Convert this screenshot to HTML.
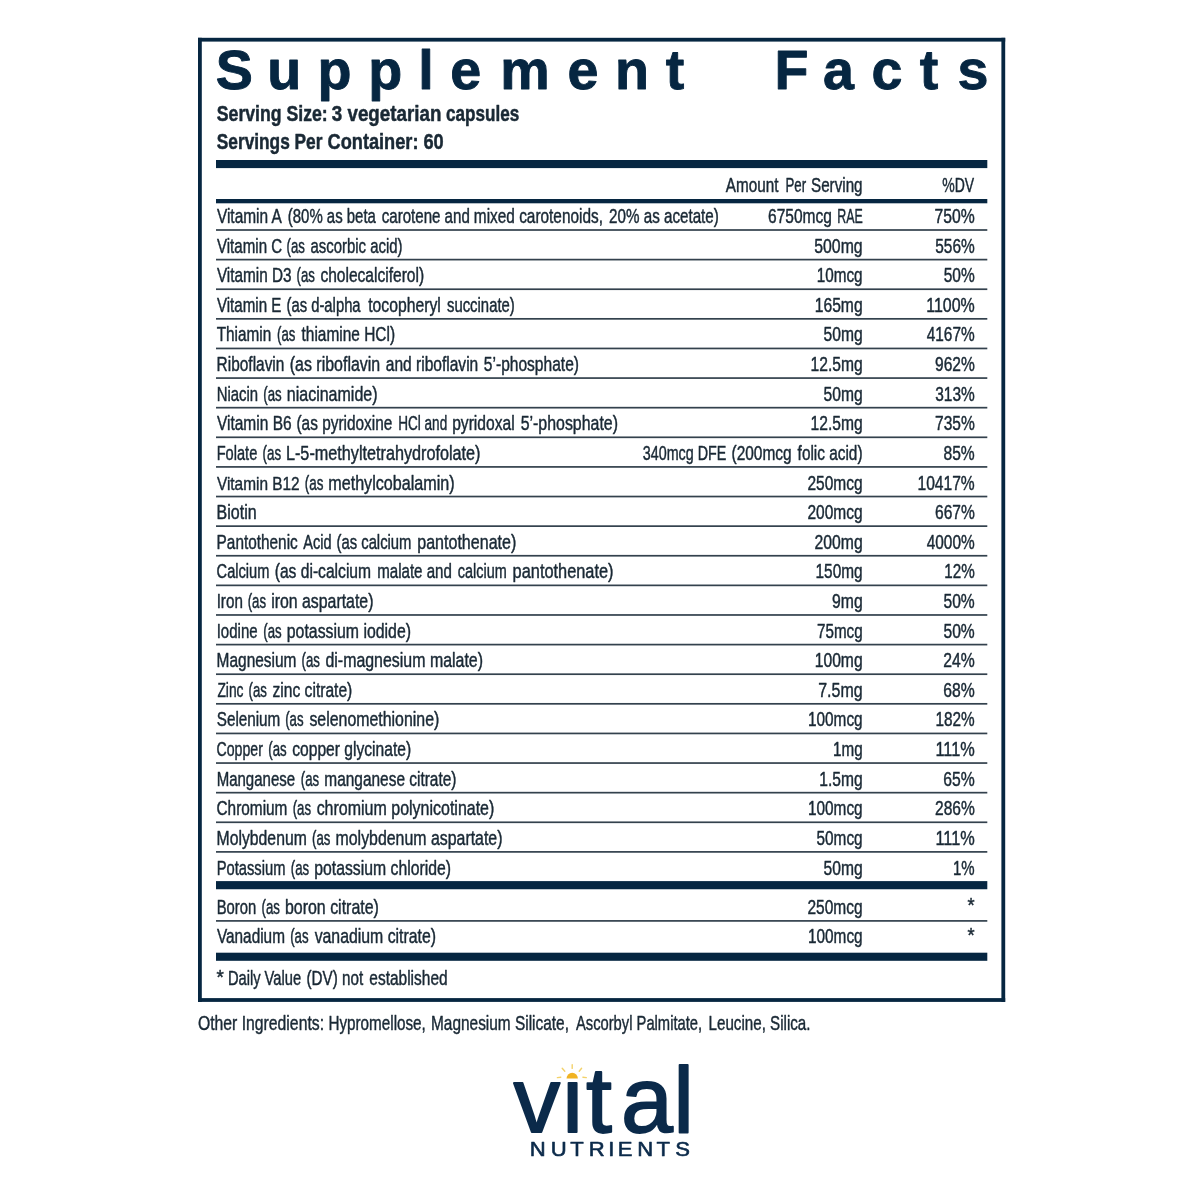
<!DOCTYPE html>
<html lang="en"><head><meta charset="utf-8"><title>Supplement Facts</title>
<style>
html,body{margin:0;padding:0;background:#fff;}
svg{display:block;}
text{font-family:"Liberation Sans",sans-serif;font-kerning:normal;stroke-linejoin:round;}
</style></head><body>
<svg width="1200" height="1200" viewBox="0 0 1200 1200">
<rect width="1200" height="1200" fill="#fff"/>
<rect x="198.00" y="37.80" width="807.20" height="3.80" fill="#062641"/>
<rect x="198.00" y="998.10" width="807.20" height="3.80" fill="#062641"/>
<rect x="198.00" y="37.80" width="3.80" height="964.10" fill="#062641"/>
<rect x="1001.40" y="37.80" width="3.80" height="964.10" fill="#062641"/>
<rect x="216.00" y="160.00" width="771.30" height="8.10" fill="#062641"/>
<rect x="216.00" y="199.00" width="771.30" height="4.30" fill="#062641"/>
<rect x="216.00" y="229.15" width="771.30" height="1.70" fill="#33414d"/>
<rect x="216.00" y="258.76" width="771.30" height="1.70" fill="#33414d"/>
<rect x="216.00" y="288.38" width="771.30" height="1.70" fill="#33414d"/>
<rect x="216.00" y="317.99" width="771.30" height="1.70" fill="#33414d"/>
<rect x="216.00" y="347.61" width="771.30" height="1.70" fill="#33414d"/>
<rect x="216.00" y="377.22" width="771.30" height="1.70" fill="#33414d"/>
<rect x="216.00" y="406.83" width="771.30" height="1.70" fill="#33414d"/>
<rect x="216.00" y="436.45" width="771.30" height="1.70" fill="#33414d"/>
<rect x="216.00" y="466.06" width="771.30" height="1.70" fill="#33414d"/>
<rect x="216.00" y="495.68" width="771.30" height="1.70" fill="#33414d"/>
<rect x="216.00" y="525.29" width="771.30" height="1.70" fill="#33414d"/>
<rect x="216.00" y="554.90" width="771.30" height="1.70" fill="#33414d"/>
<rect x="216.00" y="584.52" width="771.30" height="1.70" fill="#33414d"/>
<rect x="216.00" y="614.13" width="771.30" height="1.70" fill="#33414d"/>
<rect x="216.00" y="643.75" width="771.30" height="1.70" fill="#33414d"/>
<rect x="216.00" y="673.36" width="771.30" height="1.70" fill="#33414d"/>
<rect x="216.00" y="702.97" width="771.30" height="1.70" fill="#33414d"/>
<rect x="216.00" y="732.59" width="771.30" height="1.70" fill="#33414d"/>
<rect x="216.00" y="762.20" width="771.30" height="1.70" fill="#33414d"/>
<rect x="216.00" y="791.82" width="771.30" height="1.70" fill="#33414d"/>
<rect x="216.00" y="821.43" width="771.30" height="1.70" fill="#33414d"/>
<rect x="216.00" y="851.04" width="771.30" height="1.70" fill="#33414d"/>
<rect x="216.00" y="881.10" width="771.30" height="8.15" fill="#062641"/>
<rect x="216.00" y="920.05" width="771.30" height="1.70" fill="#33414d"/>
<rect x="216.00" y="952.70" width="771.30" height="8.10" fill="#062641"/>
<text transform="matrix(0.8010 0 0 1.0000 216.92 223.00)" font-size="19.3" fill="#1a2935" stroke="#1a2935" stroke-width="0.45">Vitamin A</text>
<text transform="matrix(0.7752 0 0 1.0000 287.82 223.00)" font-size="19.3" fill="#1a2935" stroke="#1a2935" stroke-width="0.45">(80% as beta</text>
<text transform="matrix(0.7816 0 0 1.0000 381.75 223.00)" font-size="19.3" fill="#1a2935" stroke="#1a2935" stroke-width="0.45">carotene and</text>
<text transform="matrix(0.7980 0 0 1.0000 473.86 223.00)" font-size="19.3" fill="#1a2935" stroke="#1a2935" stroke-width="0.45">mixed carotenoids,</text>
<text transform="matrix(0.7869 0 0 1.0000 609.11 223.00)" font-size="19.3" fill="#1a2935" stroke="#1a2935" stroke-width="0.45">20% as acetate)</text>
<text transform="matrix(0.8048 0 0 1.0000 768.00 223.00)" font-size="19.3" fill="#1a2935" stroke="#1a2935" stroke-width="0.45">6750mcg</text>
<text transform="matrix(0.6436 0 0 1.0000 837.25 223.00)" font-size="19.3" fill="#1a2935" stroke="#1a2935" stroke-width="0.45">RAE</text>
<text transform="matrix(0.8155 0 0 1.0000 934.49 223.00)" font-size="19.3" fill="#1a2935" stroke="#1a2935" stroke-width="0.45">750%</text>
<text transform="matrix(0.7835 0 0 1.0000 216.92 252.61)" font-size="19.3" fill="#1a2935" stroke="#1a2935" stroke-width="0.45">Vitamin C</text>
<text transform="matrix(0.6857 0 0 1.0000 286.50 252.61)" font-size="19.3" fill="#1a2935" stroke="#1a2935" stroke-width="0.45">(as</text>
<text transform="matrix(0.7735 0 0 1.0000 310.46 252.61)" font-size="19.3" fill="#1a2935" stroke="#1a2935" stroke-width="0.45">ascorbic acid)</text>
<text transform="matrix(0.8208 0 0 1.0000 814.23 252.61)" font-size="19.3" fill="#1a2935" stroke="#1a2935" stroke-width="0.45">500mg</text>
<text transform="matrix(0.8001 0 0 1.0000 935.24 252.61)" font-size="19.3" fill="#1a2935" stroke="#1a2935" stroke-width="0.45">556%</text>
<text transform="matrix(0.7946 0 0 1.0000 216.92 282.23)" font-size="19.3" fill="#1a2935" stroke="#1a2935" stroke-width="0.45">Vitamin D3</text>
<text transform="matrix(0.6857 0 0 1.0000 296.50 282.23)" font-size="19.3" fill="#1a2935" stroke="#1a2935" stroke-width="0.45">(as</text>
<text transform="matrix(0.8059 0 0 1.0000 320.44 282.23)" font-size="19.3" fill="#1a2935" stroke="#1a2935" stroke-width="0.45">cholecalciferol)</text>
<text transform="matrix(0.7917 0 0 1.0000 816.77 282.23)" font-size="19.3" fill="#1a2935" stroke="#1a2935" stroke-width="0.45">10mcg</text>
<text transform="matrix(0.8024 0 0 1.0000 943.74 282.23)" font-size="19.3" fill="#1a2935" stroke="#1a2935" stroke-width="0.45">50%</text>
<text transform="matrix(0.7841 0 0 1.0000 216.92 311.84)" font-size="19.3" fill="#1a2935" stroke="#1a2935" stroke-width="0.45">Vitamin E</text>
<text transform="matrix(0.7680 0 0 1.0000 286.53 311.84)" font-size="19.3" fill="#1a2935" stroke="#1a2935" stroke-width="0.45">(as d-alpha</text>
<text transform="matrix(0.8152 0 0 1.0000 368.23 311.84)" font-size="19.3" fill="#1a2935" stroke="#1a2935" stroke-width="0.45">tocopheryl</text>
<text transform="matrix(0.7708 0 0 1.0000 446.99 311.84)" font-size="19.3" fill="#1a2935" stroke="#1a2935" stroke-width="0.45">succinate)</text>
<text transform="matrix(0.8119 0 0 1.0000 814.75 311.84)" font-size="19.3" fill="#1a2935" stroke="#1a2935" stroke-width="0.45">165mg</text>
<text transform="matrix(0.8271 0 0 1.0000 926.23 311.84)" font-size="19.3" fill="#1a2935" stroke="#1a2935" stroke-width="0.45">1100%</text>
<text transform="matrix(0.7947 0 0 1.0000 216.69 341.46)" font-size="19.3" fill="#1a2935" stroke="#1a2935" stroke-width="0.45">Thiamin</text>
<text transform="matrix(0.6857 0 0 1.0000 277.10 341.46)" font-size="19.3" fill="#1a2935" stroke="#1a2935" stroke-width="0.45">(as</text>
<text transform="matrix(0.8002 0 0 1.0000 301.53 341.46)" font-size="19.3" fill="#1a2935" stroke="#1a2935" stroke-width="0.45">thiamine HCl)</text>
<text transform="matrix(0.8113 0 0 1.0000 823.49 341.46)" font-size="19.3" fill="#1a2935" stroke="#1a2935" stroke-width="0.45">50mg</text>
<text transform="matrix(0.7987 0 0 1.0000 926.73 341.46)" font-size="19.3" fill="#1a2935" stroke="#1a2935" stroke-width="0.45">4167%</text>
<text transform="matrix(0.7997 0 0 1.0000 216.62 371.07)" font-size="19.3" fill="#1a2935" stroke="#1a2935" stroke-width="0.45">Riboflavin</text>
<text transform="matrix(0.8262 0 0 1.0000 289.78 371.07)" font-size="19.3" fill="#1a2935" stroke="#1a2935" stroke-width="0.45">(as riboflavin</text>
<text transform="matrix(0.8067 0 0 1.0000 385.74 371.07)" font-size="19.3" fill="#1a2935" stroke="#1a2935" stroke-width="0.45">and riboflavin</text>
<text transform="matrix(0.8070 0 0 1.0000 483.84 371.07)" font-size="19.3" fill="#1a2935" stroke="#1a2935" stroke-width="0.45">5’-phosphate)</text>
<text transform="matrix(0.8102 0 0 1.0000 810.50 371.07)" font-size="19.3" fill="#1a2935" stroke="#1a2935" stroke-width="0.45">12.5mg</text>
<text transform="matrix(0.8051 0 0 1.0000 935.00 371.07)" font-size="19.3" fill="#1a2935" stroke="#1a2935" stroke-width="0.45">962%</text>
<text transform="matrix(0.7729 0 0 1.0000 216.66 400.68)" font-size="19.3" fill="#1a2935" stroke="#1a2935" stroke-width="0.45">Niacin</text>
<text transform="matrix(0.6857 0 0 1.0000 263.35 400.68)" font-size="19.3" fill="#1a2935" stroke="#1a2935" stroke-width="0.45">(as</text>
<text transform="matrix(0.8301 0 0 1.0000 286.77 400.68)" font-size="19.3" fill="#1a2935" stroke="#1a2935" stroke-width="0.45">niacinamide)</text>
<text transform="matrix(0.8113 0 0 1.0000 823.49 400.68)" font-size="19.3" fill="#1a2935" stroke="#1a2935" stroke-width="0.45">50mg</text>
<text transform="matrix(0.8001 0 0 1.0000 935.24 400.68)" font-size="19.3" fill="#1a2935" stroke="#1a2935" stroke-width="0.45">313%</text>
<text transform="matrix(0.8037 0 0 1.0000 216.92 430.30)" font-size="19.3" fill="#1a2935" stroke="#1a2935" stroke-width="0.45">Vitamin B6</text>
<text transform="matrix(0.7982 0 0 1.0000 296.50 430.30)" font-size="19.3" fill="#1a2935" stroke="#1a2935" stroke-width="0.45">(as pyridoxine</text>
<text transform="matrix(0.7038 0 0 1.0000 398.16 430.30)" font-size="19.3" fill="#1a2935" stroke="#1a2935" stroke-width="0.45">HCl and</text>
<text transform="matrix(0.8086 0 0 1.0000 452.15 430.30)" font-size="19.3" fill="#1a2935" stroke="#1a2935" stroke-width="0.45">pyridoxal</text>
<text transform="matrix(0.8250 0 0 1.0000 520.63 430.30)" font-size="19.3" fill="#1a2935" stroke="#1a2935" stroke-width="0.45">5’-phosphate)</text>
<text transform="matrix(0.8102 0 0 1.0000 810.50 430.30)" font-size="19.3" fill="#1a2935" stroke="#1a2935" stroke-width="0.45">12.5mg</text>
<text transform="matrix(0.8051 0 0 1.0000 935.00 430.30)" font-size="19.3" fill="#1a2935" stroke="#1a2935" stroke-width="0.45">735%</text>
<text transform="matrix(0.7566 0 0 1.0000 216.68 459.91)" font-size="19.3" fill="#1a2935" stroke="#1a2935" stroke-width="0.45">Folate</text>
<text transform="matrix(0.6936 0 0 1.0000 262.60 459.91)" font-size="19.3" fill="#1a2935" stroke="#1a2935" stroke-width="0.45">(as</text>
<text transform="matrix(0.8401 0 0 1.0000 285.96 459.91)" font-size="19.3" fill="#1a2935" stroke="#1a2935" stroke-width="0.45">L-5-methyltetrahydrofolate)</text>
<text transform="matrix(0.7423 0 0 1.0000 642.78 459.91)" font-size="19.3" fill="#1a2935" stroke="#1a2935" stroke-width="0.45">340mcg DFE</text>
<text transform="matrix(0.8010 0 0 1.0000 731.50 459.91)" font-size="19.3" fill="#1a2935" stroke="#1a2935" stroke-width="0.45">(200mcg</text>
<text transform="matrix(0.7967 0 0 1.0000 797.62 459.91)" font-size="19.3" fill="#1a2935" stroke="#1a2935" stroke-width="0.45">folic acid)</text>
<text transform="matrix(0.8091 0 0 1.0000 943.49 459.91)" font-size="19.3" fill="#1a2935" stroke="#1a2935" stroke-width="0.45">85%</text>
<text transform="matrix(0.7991 0 0 1.0000 216.92 489.53)" font-size="19.3" fill="#1a2935" stroke="#1a2935" stroke-width="0.45">Vitamin B12</text>
<text transform="matrix(0.6975 0 0 1.0000 304.79 489.53)" font-size="19.3" fill="#1a2935" stroke="#1a2935" stroke-width="0.45">(as</text>
<text transform="matrix(0.8370 0 0 1.0000 328.22 489.53)" font-size="19.3" fill="#1a2935" stroke="#1a2935" stroke-width="0.45">methylcobalamin)</text>
<text transform="matrix(0.8032 0 0 1.0000 807.50 489.53)" font-size="19.3" fill="#1a2935" stroke="#1a2935" stroke-width="0.45">250mcg</text>
<text transform="matrix(0.8081 0 0 1.0000 917.50 489.53)" font-size="19.3" fill="#1a2935" stroke="#1a2935" stroke-width="0.45">10417%</text>
<text transform="matrix(0.8307 0 0 1.0000 216.57 519.14)" font-size="19.3" fill="#1a2935" stroke="#1a2935" stroke-width="0.45">Biotin</text>
<text transform="matrix(0.8032 0 0 1.0000 807.50 519.14)" font-size="19.3" fill="#1a2935" stroke="#1a2935" stroke-width="0.45">200mcg</text>
<text transform="matrix(0.8051 0 0 1.0000 935.00 519.14)" font-size="19.3" fill="#1a2935" stroke="#1a2935" stroke-width="0.45">667%</text>
<text transform="matrix(0.7960 0 0 1.0000 216.62 548.75)" font-size="19.3" fill="#1a2935" stroke="#1a2935" stroke-width="0.45">Pantothenic</text>
<text transform="matrix(0.7529 0 0 1.0000 303.33 548.75)" font-size="19.3" fill="#1a2935" stroke="#1a2935" stroke-width="0.45">Acid</text>
<text transform="matrix(0.7686 0 0 1.0000 336.53 548.75)" font-size="19.3" fill="#1a2935" stroke="#1a2935" stroke-width="0.45">(as calcium</text>
<text transform="matrix(0.8322 0 0 1.0000 417.22 548.75)" font-size="19.3" fill="#1a2935" stroke="#1a2935" stroke-width="0.45">pantothenate)</text>
<text transform="matrix(0.8163 0 0 1.0000 814.49 548.75)" font-size="19.3" fill="#1a2935" stroke="#1a2935" stroke-width="0.45">200mg</text>
<text transform="matrix(0.7987 0 0 1.0000 926.73 548.75)" font-size="19.3" fill="#1a2935" stroke="#1a2935" stroke-width="0.45">4000%</text>
<text transform="matrix(0.7603 0 0 1.0000 216.54 578.37)" font-size="19.3" fill="#1a2935" stroke="#1a2935" stroke-width="0.45">Calcium</text>
<text transform="matrix(0.8106 0 0 1.0000 274.69 578.37)" font-size="19.3" fill="#1a2935" stroke="#1a2935" stroke-width="0.45">(as di-calcium</text>
<text transform="matrix(0.7827 0 0 1.0000 377.18 578.37)" font-size="19.3" fill="#1a2935" stroke="#1a2935" stroke-width="0.45">malate and</text>
<text transform="matrix(0.7482 0 0 1.0000 457.77 578.37)" font-size="19.3" fill="#1a2935" stroke="#1a2935" stroke-width="0.45">calcium</text>
<text transform="matrix(0.8481 0 0 1.0000 512.60 578.37)" font-size="19.3" fill="#1a2935" stroke="#1a2935" stroke-width="0.45">pantothenate)</text>
<text transform="matrix(0.7986 0 0 1.0000 815.51 578.37)" font-size="19.3" fill="#1a2935" stroke="#1a2935" stroke-width="0.45">150mg</text>
<text transform="matrix(0.7884 0 0 1.0000 944.27 578.37)" font-size="19.3" fill="#1a2935" stroke="#1a2935" stroke-width="0.45">12%</text>
<text transform="matrix(0.7892 0 0 1.0000 216.64 607.98)" font-size="19.3" fill="#1a2935" stroke="#1a2935" stroke-width="0.45">Iron</text>
<text transform="matrix(0.6857 0 0 1.0000 247.70 607.98)" font-size="19.3" fill="#1a2935" stroke="#1a2935" stroke-width="0.45">(as</text>
<text transform="matrix(0.8234 0 0 1.0000 271.13 607.98)" font-size="19.3" fill="#1a2935" stroke="#1a2935" stroke-width="0.45">iron aspartate)</text>
<text transform="matrix(0.8170 0 0 1.0000 831.99 607.98)" font-size="19.3" fill="#1a2935" stroke="#1a2935" stroke-width="0.45">9mg</text>
<text transform="matrix(0.8091 0 0 1.0000 943.49 607.98)" font-size="19.3" fill="#1a2935" stroke="#1a2935" stroke-width="0.45">50%</text>
<text transform="matrix(0.7794 0 0 1.0000 216.65 637.60)" font-size="19.3" fill="#1a2935" stroke="#1a2935" stroke-width="0.45">Iodine</text>
<text transform="matrix(0.6857 0 0 1.0000 263.35 637.60)" font-size="19.3" fill="#1a2935" stroke="#1a2935" stroke-width="0.45">(as</text>
<text transform="matrix(0.8218 0 0 1.0000 286.78 637.60)" font-size="19.3" fill="#1a2935" stroke="#1a2935" stroke-width="0.45">potassium iodide)</text>
<text transform="matrix(0.7875 0 0 1.0000 817.01 637.60)" font-size="19.3" fill="#1a2935" stroke="#1a2935" stroke-width="0.45">75mcg</text>
<text transform="matrix(0.8091 0 0 1.0000 943.49 637.60)" font-size="19.3" fill="#1a2935" stroke="#1a2935" stroke-width="0.45">50%</text>
<text transform="matrix(0.8015 0 0 1.0000 216.62 667.21)" font-size="19.3" fill="#1a2935" stroke="#1a2935" stroke-width="0.45">Magnesium</text>
<text transform="matrix(0.6857 0 0 1.0000 301.50 667.21)" font-size="19.3" fill="#1a2935" stroke="#1a2935" stroke-width="0.45">(as</text>
<text transform="matrix(0.8258 0 0 1.0000 325.43 667.21)" font-size="19.3" fill="#1a2935" stroke="#1a2935" stroke-width="0.45">di-magnesium malate)</text>
<text transform="matrix(0.8119 0 0 1.0000 814.75 667.21)" font-size="19.3" fill="#1a2935" stroke="#1a2935" stroke-width="0.45">100mg</text>
<text transform="matrix(0.8156 0 0 1.0000 943.24 667.21)" font-size="19.3" fill="#1a2935" stroke="#1a2935" stroke-width="0.45">24%</text>
<text transform="matrix(0.7158 0 0 1.0000 217.39 696.82)" font-size="19.3" fill="#1a2935" stroke="#1a2935" stroke-width="0.45">Zinc</text>
<text transform="matrix(0.6857 0 0 1.0000 248.60 696.82)" font-size="19.3" fill="#1a2935" stroke="#1a2935" stroke-width="0.45">(as</text>
<text transform="matrix(0.8082 0 0 1.0000 272.54 696.82)" font-size="19.3" fill="#1a2935" stroke="#1a2935" stroke-width="0.45">zinc citrate)</text>
<text transform="matrix(0.8286 0 0 1.0000 818.23 696.82)" font-size="19.3" fill="#1a2935" stroke="#1a2935" stroke-width="0.45">7.5mg</text>
<text transform="matrix(0.8156 0 0 1.0000 943.24 696.82)" font-size="19.3" fill="#1a2935" stroke="#1a2935" stroke-width="0.45">68%</text>
<text transform="matrix(0.7900 0 0 1.0000 216.75 726.44)" font-size="19.3" fill="#1a2935" stroke="#1a2935" stroke-width="0.45">Selenium</text>
<text transform="matrix(0.6857 0 0 1.0000 285.20 726.44)" font-size="19.3" fill="#1a2935" stroke="#1a2935" stroke-width="0.45">(as</text>
<text transform="matrix(0.8241 0 0 1.0000 309.38 726.44)" font-size="19.3" fill="#1a2935" stroke="#1a2935" stroke-width="0.45">selenomethionine)</text>
<text transform="matrix(0.7955 0 0 1.0000 808.02 726.44)" font-size="19.3" fill="#1a2935" stroke="#1a2935" stroke-width="0.45">100mcg</text>
<text transform="matrix(0.7944 0 0 1.0000 935.52 726.44)" font-size="19.3" fill="#1a2935" stroke="#1a2935" stroke-width="0.45">182%</text>
<text transform="matrix(0.7327 0 0 1.0000 216.56 756.05)" font-size="19.3" fill="#1a2935" stroke="#1a2935" stroke-width="0.45">Copper</text>
<text transform="matrix(0.6857 0 0 1.0000 268.35 756.05)" font-size="19.3" fill="#1a2935" stroke="#1a2935" stroke-width="0.45">(as</text>
<text transform="matrix(0.8083 0 0 1.0000 292.29 756.05)" font-size="19.3" fill="#1a2935" stroke="#1a2935" stroke-width="0.45">copper glycinate)</text>
<text transform="matrix(0.7886 0 0 1.0000 833.02 756.05)" font-size="19.3" fill="#1a2935" stroke="#1a2935" stroke-width="0.45">1mg</text>
<text transform="matrix(0.8453 0 0 1.0000 935.46 756.05)" font-size="19.3" fill="#1a2935" stroke="#1a2935" stroke-width="0.45">111%</text>
<text transform="matrix(0.7781 0 0 1.0000 216.65 785.67)" font-size="19.3" fill="#1a2935" stroke="#1a2935" stroke-width="0.45">Manganese</text>
<text transform="matrix(0.6857 0 0 1.0000 300.85 785.67)" font-size="19.3" fill="#1a2935" stroke="#1a2935" stroke-width="0.45">(as</text>
<text transform="matrix(0.8006 0 0 1.0000 324.31 785.67)" font-size="19.3" fill="#1a2935" stroke="#1a2935" stroke-width="0.45">manganese citrate)</text>
<text transform="matrix(0.8091 0 0 1.0000 819.25 785.67)" font-size="19.3" fill="#1a2935" stroke="#1a2935" stroke-width="0.45">1.5mg</text>
<text transform="matrix(0.8156 0 0 1.0000 943.24 785.67)" font-size="19.3" fill="#1a2935" stroke="#1a2935" stroke-width="0.45">65%</text>
<text transform="matrix(0.7973 0 0 1.0000 216.50 815.28)" font-size="19.3" fill="#1a2935" stroke="#1a2935" stroke-width="0.45">Chromium</text>
<text transform="matrix(0.6857 0 0 1.0000 292.70 815.28)" font-size="19.3" fill="#1a2935" stroke="#1a2935" stroke-width="0.45">(as</text>
<text transform="matrix(0.8284 0 0 1.0000 316.63 815.28)" font-size="19.3" fill="#1a2935" stroke="#1a2935" stroke-width="0.45">chromium polynicotinate)</text>
<text transform="matrix(0.7955 0 0 1.0000 808.02 815.28)" font-size="19.3" fill="#1a2935" stroke="#1a2935" stroke-width="0.45">100mcg</text>
<text transform="matrix(0.8051 0 0 1.0000 935.00 815.28)" font-size="19.3" fill="#1a2935" stroke="#1a2935" stroke-width="0.45">286%</text>
<text transform="matrix(0.8168 0 0 1.0000 216.59 844.89)" font-size="19.3" fill="#1a2935" stroke="#1a2935" stroke-width="0.45">Molybdenum</text>
<text transform="matrix(0.6857 0 0 1.0000 312.10 844.89)" font-size="19.3" fill="#1a2935" stroke="#1a2935" stroke-width="0.45">(as</text>
<text transform="matrix(0.8240 0 0 1.0000 335.53 844.89)" font-size="19.3" fill="#1a2935" stroke="#1a2935" stroke-width="0.45">molybdenum aspartate)</text>
<text transform="matrix(0.7966 0 0 1.0000 816.49 844.89)" font-size="19.3" fill="#1a2935" stroke="#1a2935" stroke-width="0.45">50mcg</text>
<text transform="matrix(0.8453 0 0 1.0000 935.46 844.89)" font-size="19.3" fill="#1a2935" stroke="#1a2935" stroke-width="0.45">111%</text>
<text transform="matrix(0.7643 0 0 1.0000 216.67 874.51)" font-size="19.3" fill="#1a2935" stroke="#1a2935" stroke-width="0.45">Potassium</text>
<text transform="matrix(0.6857 0 0 1.0000 290.85 874.51)" font-size="19.3" fill="#1a2935" stroke="#1a2935" stroke-width="0.45">(as</text>
<text transform="matrix(0.8175 0 0 1.0000 314.29 874.51)" font-size="19.3" fill="#1a2935" stroke="#1a2935" stroke-width="0.45">potassium chloride)</text>
<text transform="matrix(0.8113 0 0 1.0000 823.49 874.51)" font-size="19.3" fill="#1a2935" stroke="#1a2935" stroke-width="0.45">50mg</text>
<text transform="matrix(0.7774 0 0 1.0000 953.04 874.51)" font-size="19.3" fill="#1a2935" stroke="#1a2935" stroke-width="0.45">1%</text>
<text transform="matrix(0.7677 0 0 1.0000 216.67 913.50)" font-size="19.3" fill="#1a2935" stroke="#1a2935" stroke-width="0.45">Boron</text>
<text transform="matrix(0.6857 0 0 1.0000 261.50 913.50)" font-size="19.3" fill="#1a2935" stroke="#1a2935" stroke-width="0.45">(as</text>
<text transform="matrix(0.8260 0 0 1.0000 284.93 913.50)" font-size="19.3" fill="#1a2935" stroke="#1a2935" stroke-width="0.45">boron citrate)</text>
<text transform="matrix(0.8032 0 0 1.0000 807.50 913.50)" font-size="19.3" fill="#1a2935" stroke="#1a2935" stroke-width="0.45">250mcg</text>
<text transform="matrix(0.9444 0 0 1.0000 967.44 912.20)" font-size="19.3" fill="#1a2935" stroke="#1a2935" stroke-width="0.45">*</text>
<text transform="matrix(0.7961 0 0 1.0000 216.92 943.00)" font-size="19.3" fill="#1a2935" stroke="#1a2935" stroke-width="0.45">Vanadium</text>
<text transform="matrix(0.6857 0 0 1.0000 290.20 943.00)" font-size="19.3" fill="#1a2935" stroke="#1a2935" stroke-width="0.45">(as</text>
<text transform="matrix(0.8206 0 0 1.0000 314.63 943.00)" font-size="19.3" fill="#1a2935" stroke="#1a2935" stroke-width="0.45">vanadium citrate)</text>
<text transform="matrix(0.7955 0 0 1.0000 808.02 943.00)" font-size="19.3" fill="#1a2935" stroke="#1a2935" stroke-width="0.45">100mcg</text>
<text transform="matrix(0.9444 0 0 1.0000 967.44 941.70)" font-size="19.3" fill="#1a2935" stroke="#1a2935" stroke-width="0.45">*</text>
<text transform="matrix(0.9732 0 0 1.0000 216.43 984.00)" font-size="19.3" fill="#1a2935" stroke="#1a2935" stroke-width="0.45">*</text>
<text transform="matrix(0.7620 0 0 1.0000 227.88 985.00)" font-size="19.3" fill="#1a2935" stroke="#1a2935" stroke-width="0.45">Daily Value</text>
<text transform="matrix(0.7892 0 0 1.0000 306.51 985.00)" font-size="19.3" fill="#1a2935" stroke="#1a2935" stroke-width="0.45">(DV) not</text>
<text transform="matrix(0.8020 0 0 1.0000 369.34 985.00)" font-size="19.3" fill="#1a2935" stroke="#1a2935" stroke-width="0.45">established</text>
<text transform="matrix(0.7761 0 0 1.0000 197.99 1029.80)" font-size="20.3" fill="#1a2935" stroke="#1a2935" stroke-width="0.45">Other Ingredients:</text>
<text transform="matrix(0.7514 0 0 1.0000 328.43 1029.80)" font-size="20.3" fill="#1a2935" stroke="#1a2935" stroke-width="0.45">Hypromellose,</text>
<text transform="matrix(0.7597 0 0 1.0000 431.02 1029.80)" font-size="20.3" fill="#1a2935" stroke="#1a2935" stroke-width="0.45">Magnesium Silicate,</text>
<text transform="matrix(0.7267 0 0 1.0000 575.93 1029.80)" font-size="20.3" fill="#1a2935" stroke="#1a2935" stroke-width="0.45">Ascorbyl Palmitate,</text>
<text transform="matrix(0.7471 0 0 1.0000 708.54 1029.80)" font-size="20.3" fill="#1a2935" stroke="#1a2935" stroke-width="0.45">Leucine, Silica.</text>
<text transform="matrix(0.7915 0 0 1.0000 725.83 192.40)" font-size="19.3" fill="#1a2935" stroke="#1a2935" stroke-width="0.45">Amount</text>
<text transform="matrix(0.6876 0 0 1.0000 785.44 192.40)" font-size="19.3" fill="#1a2935" stroke="#1a2935" stroke-width="0.45">Per</text>
<text transform="matrix(0.7890 0 0 1.0000 811.00 192.40)" font-size="19.3" fill="#1a2935" stroke="#1a2935" stroke-width="0.45">Serving</text>
<text transform="matrix(0.7259 0 0 1.0000 942.29 192.40)" font-size="19.3" fill="#1a2935" stroke="#1a2935" stroke-width="0.45">%DV</text>
<text transform="matrix(0.8186 0 0 1.0000 216.77 120.80)" font-size="21.6" font-weight="bold" fill="#1a2935" stroke="#1a2935" stroke-width="0.5">Serving Size:</text>
<text transform="matrix(0.8694 0 0 1.0000 331.86 120.80)" font-size="21.6" font-weight="bold" fill="#1a2935" stroke="#1a2935" stroke-width="0.5">3 vegetarian</text>
<text transform="matrix(0.7909 0 0 1.0000 446.12 120.80)" font-size="21.6" font-weight="bold" fill="#1a2935" stroke="#1a2935" stroke-width="0.5">capsules</text>
<text transform="matrix(0.8005 0 0 1.0000 216.78 149.00)" font-size="21.6" font-weight="bold" fill="#1a2935" stroke="#1a2935" stroke-width="0.5">Servings Per</text>
<text transform="matrix(0.8419 0 0 1.0000 327.58 149.00)" font-size="21.6" font-weight="bold" fill="#1a2935" stroke="#1a2935" stroke-width="0.5">Container: 60</text>
<text transform="matrix(1.0076 0 0 1.0000 0 88.90)" x="214.02 265.36 315.18 365.50 415.01 446.95 496.44 563.31 610.46 660.73 688.33 768.72 816.69 865.01 912.81 950.29" y="0" font-size="55.2" font-weight="bold" fill="#062641" stroke="#062641" stroke-width="0.9">Supplement Facts</text>
<text transform="matrix(0.9833 0 0 0.9750 0 1132.20)" x="522.14 571.70 595.99 631.44 684.75" y="0" font-size="95" fill="#0b2a4a" stroke="#0b2a4a" stroke-width="1.8">vital</text>
<text transform="matrix(1.0563 0 0 1.0000 0 1156.00)" x="501.46 521.39 539.81 557.44 575.73 584.89 603.19 621.42 639.34" y="0" font-size="20.9" fill="#0b2a4a" stroke="#0b2a4a" stroke-width="0.6">NUTRIENTS</text>
<rect x="564" y="1058" width="17" height="21.6" fill="#fff"/>
<path d="M566.5 1078.6 A5.7 5.8 0 0 1 577.9 1078.6 Z" fill="#f0b323"/>
<g stroke="#f3d26b" stroke-width="1.4" stroke-linecap="round" fill="none">
<line x1="557.4" y1="1077.6" x2="560.8" y2="1077.2"/>
<line x1="582.9" y1="1077.2" x2="586.3" y2="1077.6"/>
<line x1="562.2" y1="1068.2" x2="564.8" y2="1071.3"/>
<line x1="581.6" y1="1068.2" x2="579.2" y2="1071.3"/>
<line x1="572.2" y1="1064.8" x2="572.2" y2="1068.4"/>
</g>
</svg>
</body></html>
